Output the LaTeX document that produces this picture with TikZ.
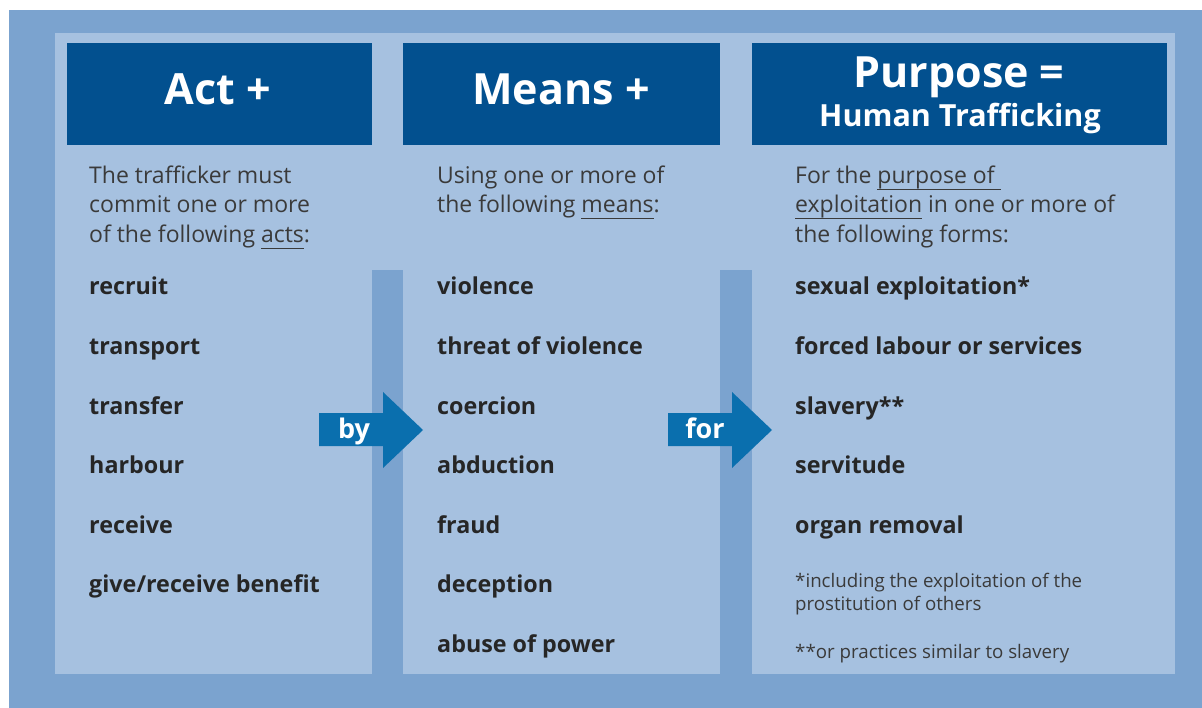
\documentclass[tikz,border=0pt]{standalone}
\usepackage{fontspec}
\setmainfont{Open Sans}
\definecolor{outerblue}{HTML}{7BA3CF}
\definecolor{panelblue}{HTML}{A6C1E0}
\definecolor{headblue}{HTML}{02508F}
\definecolor{arrowblue}{HTML}{0A6FAE}
\definecolor{bodytext}{HTML}{3A3A3A}
\definecolor{itemtext}{HTML}{262626}
\newcommand{\myul}[1]{\setbox0=\hbox{#1}\rlap{\rule[-6pt]{\wd0}{0.9pt}}\box0\relax}
\tikzset{
  headbox/.style={fill=headblue, draw=none},
  headtxt/.style={text=white, font=\bfseries\fontsize{43}{48}\selectfont, anchor=base, inner sep=0pt},
  subhead/.style={text=white, font=\bfseries\fontsize{30.5}{36}\selectfont, anchor=base, inner sep=0pt},
  bodytxt/.style={text=bodytext, font=\fontsize{23}{26}\selectfont, anchor=base west, inner sep=0pt},
  itemtxt/.style={text=itemtext, font=\bfseries\fontsize{23.3}{26}\selectfont, anchor=base west, inner sep=0pt},
  notetxt/.style={text=bodytext, font=\fontsize{18.7}{20}\selectfont, anchor=base west, inner sep=0pt},
  arrowshape/.style={fill=arrowblue, draw=none},
  arrowtxt/.style={text=white, font=\bfseries\fontsize{27}{30}\selectfont, anchor=base, inner sep=0pt},
}
\begin{document}
\begin{tikzpicture}[x=1pt, y=-1pt]
\useasboundingbox (0,0) rectangle (1202,708);
% backgrounds
\fill[outerblue] (9,10) rectangle (1202,708);
\fill[panelblue] (55,33) rectangle (1175,674);
\fill[outerblue] (372,270) rectangle (403,674);
\fill[outerblue] (720,270) rectangle (752,674);
% headers
\fill[headbox] (67,43) rectangle (372,145);
\fill[headbox] (403,43) rectangle (720,145);
\fill[headbox] (752,43) rectangle (1167,145);
\node[headtxt] (h1) at (218,105) {Act +};
\node[headtxt] (h2) at (561,105) {Means +};
\node[headtxt] (h3) at (959,88) {Purpose =};
\node[subhead] (h3b) at (960,127) {Human Trafficking};
% arrows
\fill[arrowshape] (319,413) -- (383,413) -- (383,392) -- (423,430) -- (383,468) -- (383,446) -- (319,446) -- cycle;
\fill[arrowshape] (668,413) -- (732,413) -- (732,392) -- (772,430) -- (732,468) -- (732,446) -- (668,446) -- cycle;
\node[arrowtxt] (by) at (354,438) {by};
\node[arrowtxt] (for) at (705,438) {for};
% column 1 intro
\node[bodytxt] (a1) at (89,184) {The trafficker must};
\node[bodytxt] (a2) at (89,213) {commit one or more};
\node[bodytxt] (a3) at (89,243) {of the following \myul{acts}:};
% column 2 intro
\node[bodytxt] (b1) at (437,184) {Using one or more of};
\node[bodytxt] (b2) at (437,213) {the following \myul{means}:};
% column 3 intro
\node[bodytxt] (c1) at (795,184) {For the \myul{purpose of\ }};
\node[bodytxt] (c2) at (795,213) {\myul{exploitation} in one or more of};
\node[bodytxt] (c3) at (795,243) {the following forms:};
% lists
\foreach \t [count=\i] in {recruit, transport, transfer, harbour, receive, give/receive benefit}
  \node[itemtxt] (act\i) at (89,{295+59.5*(\i-1)}) {\t};
\foreach \t [count=\i] in {violence, threat of violence, coercion, abduction, fraud, deception, abuse of power}
  \node[itemtxt] (mean\i) at (437,{295+59.5*(\i-1)}) {\t};
\foreach \t [count=\i] in {sexual exploitation*, forced labour or services, slavery**, servitude, organ removal}
  \node[itemtxt] (purp\i) at (795,{295+59.5*(\i-1)}) {\t};
% footnotes
\node[notetxt] (n1) at (795,587) {*including the exploitation of the};
\node[notetxt] (n2) at (795,610) {prostitution of others};
\node[notetxt] (n3) at (795,658) {**or practices similar to slavery};
\end{tikzpicture}
\end{document}
